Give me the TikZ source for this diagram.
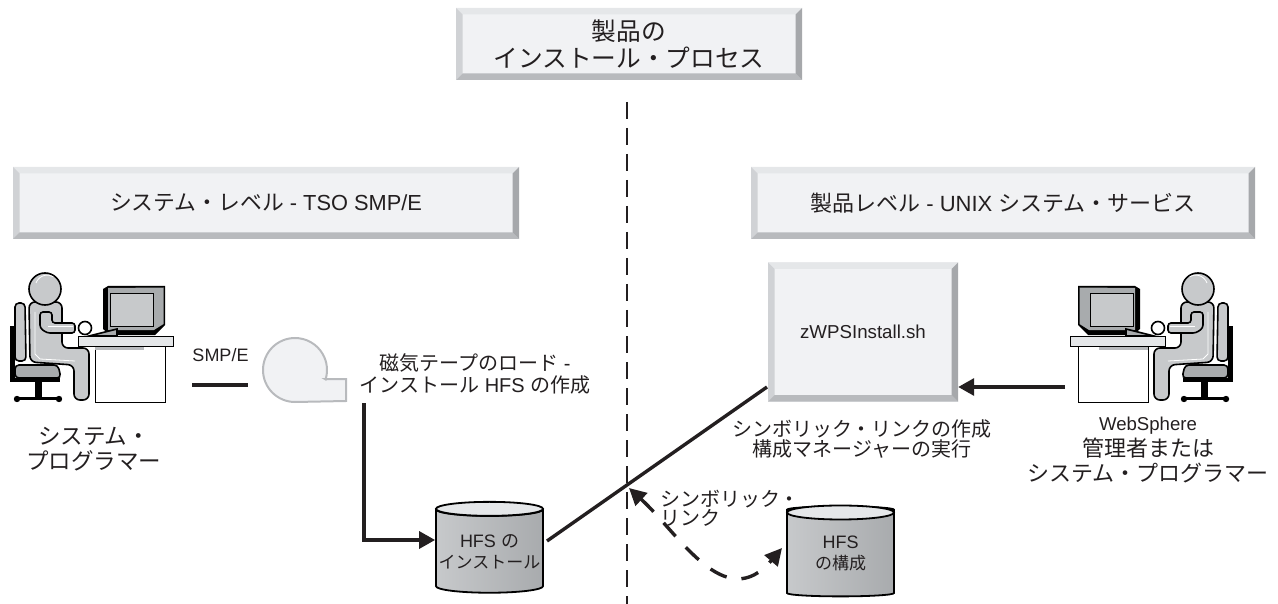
\documentclass[tikz,border=0pt]{standalone}
\usepackage{fontspec}
\setmainfont{Liberation Sans}
\newfontfamily\jafont{Noto Sans CJK JP}
\usetikzlibrary{arrows.meta,calc,shapes.geometric}

\newlength{\du}
\setlength{\du}{1pt}
\newcommand{\ja}[1]{{\jafont #1}}
\newcommand{\fs}[1]{\fontsize{#1}{#1}\selectfont}

\definecolor{inkcolor}{rgb}{0.137000, 0.122000, 0.125000}
\definecolor{facecolor}{rgb}{0.945000, 0.949000, 0.957000}
\definecolor{bevellight}{rgb}{0.898000, 0.906000, 0.914000}
\definecolor{bevelmid}{rgb}{0.816000, 0.824000, 0.835000}
\definecolor{beveldark}{rgb}{0.722000, 0.729000, 0.741000}
\definecolor{bevelright}{rgb}{0.650000, 0.660000, 0.670000}
\definecolor{bodycolor}{rgb}{0.780000, 0.788000, 0.796000}
\definecolor{chaircolor}{rgb}{0.660000, 0.670000, 0.680000}

\tikzset{
  person/.pic={
    % chair
    \fill[black] (10,66) rectangle (15,122);
    \fill[black] (10,118) rectangle (60,122);
    \fill[black] (35,122) rectangle (42,137);
    \draw[black,line width=3\du,line cap=round] (17,138)--(59,138);
    \fill[black] (17,139) circle (3.2);
    \fill[black] (59,139) circle (3.2);
    \draw[thinline,fill=bodycolor,rounded corners=4\du] (15,43)--(25,43)--(26,101)--(15,101)--cycle;
    \draw[thinline,fill=chaircolor,rounded corners=4\du] (15,118)--(15,105)--(58,105)--(61,118)--cycle;
    % man
    \draw[thinline,fill=bodycolor,rounded corners=6\du] (30,102)--(29,42)--(62,42)--(62,88)--(89,88)--(89,140)--(74,140)--(74,105)--cycle;
    \draw[white,line width=0.8\du] (35,52)--(35,94)--(40,99)--(75,101);
    \draw[thinline,fill=bodycolor,rounded corners=3\du] (40,52)--(52,52)--(52,63)--(75,63)--(75,73)--(47,73)--(40,68)--cycle;
    \draw[white,line width=0.8\du] (48,66)--(73,66);
    \draw[thinline,fill=bodycolor] (45,29) circle (16);
    \draw[white,line width=0.8\du] (36,23) arc (200:300:12);
    \draw[thinline,fill=white] (85,68) circle (6.5);
    % desk and screen
    \fill[black] (103,29)--(108,26)--(165,26)--(165,65)--(155,75)--(110,75)--(103,69)--cycle;
    \fill[chaircolor] (108,28)--(163.5,27.5)--(163.5,64)--(154,70)--(108,70)--cycle;
    \fill[bodycolor] (110,33)--(153,33)--(153,66)--(110,66)--cycle;
    \draw[black,line width=0.8\du] (110,33)--(153,33)--(153,66)--(110,66)--cycle;
    \draw[thinline,fill=chaircolor] (89,76)--(117,69)--(117,76)--cycle;
    \draw[black,line width=0.7\du,fill=white] (95,86) rectangle (165,142);
    \fill[beveldark] (95,86.5) rectangle (144,90);
    \draw[black,line width=0.7\du,fill=bevellight] (78,76) rectangle (173,86);
  },
  thinline/.style={draw=black,line width=1.6\du},
  % boxes
  bevelbox/.style={
    fill=facecolor,inner sep=0pt,align=center,text=inkcolor,
    path picture={
      \fill[bevellight] (path picture bounding box.north west)--(path picture bounding box.north east)--++(-6.5pt,-6.5pt)-|($(path picture bounding box.north west)+(6.5pt,-6.5pt)$)--cycle;
      \fill[bevelmid] (path picture bounding box.north west)--(path picture bounding box.south west)--++(6.5pt,6.5pt)|-($(path picture bounding box.north west)+(6.5pt,-6.5pt)$)--cycle;
      \fill[beveldark] (path picture bounding box.south west)--(path picture bounding box.south east)--++(-6.5pt,6.5pt)-|($(path picture bounding box.south west)+(6.5pt,6.5pt)$)--cycle;
      \fill[bevelright] (path picture bounding box.south east)--(path picture bounding box.north east)--++(-6.5pt,-6.5pt)|-($(path picture bounding box.south east)+(-6.5pt,6.5pt)$)--cycle;
    }},
  hfsdisk/.style={
    shape=cylinder,shape border rotate=90,aspect=0.13,draw=black,line width=1.8\du,
    minimum width=107\du,minimum height=90\du,inner sep=0pt,align=center,text=inkcolor,
    left color=bodycolor,right color=chaircolor},
  disktop/.style={draw=black,line width=1.8\du,fill=bevellight},
  textlabel/.style={inner sep=0pt,align=center,text=inkcolor},
  thickline/.style={draw=inkcolor,line width=3.4\du},
  triangletip/.style={-{Triangle[length=16pt,width=17pt]}}
}

\begin{document}
\begin{tikzpicture}[x=1\du,y=-1\du]
\useasboundingbox (0,0) rectangle (1278,604);
% boxes
\node[bevelbox,minimum width=346\du,minimum height=72\du] (title) at (629,44) {\raisebox{-2\du}{\shortstack{\fs{24.7}\ja{製品の}\\[2\du]\fs{24.7}\ja{インストール・プロセス}}}};
\node[bevelbox,minimum width=506\du,minimum height=72\du] (system) at (266,203) {\raisebox{-2\du}{\fs{21.8}\ja{システム・レベル} - TSO SMP/E}};
\node[bevelbox,minimum width=504\du,minimum height=72\du] (product) at (1003,203) {\raisebox{-2\du}{\fs{22}\ja{製品レベル} - UNIX \ja{システム・サービス}}};
\node[bevelbox,minimum width=190\du,minimum height=139\du] (script) at (863,332) {\raisebox{-9\du}{\fs{18.7}zWPSInstall.sh}};
% people
\pic at (0,260) {person};
\pic[xscale=-1] at (1243,260) {person};
% tape
\draw[draw=beveldark,line width=2\du,fill=facecolor] (325,379)--(346,379)--(346,401)--(295,402) arc (90:377:32)--cycle;
% disks
\node[hfsdisk] (install) at (489.5,551.5) {\fs{18}HFS \ja{の}\\[6\du]\fs{17}\ja{インストール}};
\draw[disktop] ($(install.north)+(0,7)$) ellipse (53.5 and 7);
\node[hfsdisk] (config) at (840.5,553.5) {\fs{18}HFS\\[5\du]\fs{17}\ja{の構成}};
\draw[disktop] ($(config.north)+(0,7)$) ellipse (53.5 and 7);
% labels
\node[textlabel] (smpe) at (220.5,355) {\fs{18}SMP/E};
\node[textlabel] (load) at (475,374) {\fs{20}\ja{磁気テープのロード} -\\[2\du]\fs{20}\ja{インストール} HFS \ja{の作成}};
\node[textlabel] (links) at (862,439) {\fs{20}\ja{シンボリック・リンクの作成}\\[0\du]\fs{20}\ja{構成マネージャーの実行}};
\node[textlabel,align=left] (symlink) at (730,508) {\fs{20}\ja{シンボリック・}\\[0\du]\fs{20}\ja{リンク}};
\node[textlabel] (programmer) at (94,449) {\fs{22.5}\ja{システム・}\\[4\du]\fs{22.5}\ja{プログラマー}};
\node[textlabel] (admin) at (1148,450) {\fs{18.6}WebSphere\\[3\du]\fs{22}\ja{管理者または}\\[4\du]\fs{22}\ja{システム・プログラマー}};
% connectors
\coordinate (divtop) at (627,102);
\coordinate (divbottom) at (627,604);
\coordinate (tapein) at (192,385);
\coordinate (tapeend) at (248,385);
\coordinate (loadout) at (364,403);
\coordinate (loadcorner) at (364,540);
\coordinate (scriptin) at (767,387);
\coordinate (adminout) at (1065,387);
\coordinate (installout) at (547,541);
\coordinate (linktip) at (629,488);
\coordinate (configtip) at (782,548);
\draw[draw=inkcolor,line width=2\du,dash pattern=on 17\du off 9\du] (divtop)--(divbottom);
\draw[thickline] (tapein)--(tapeend);
\draw[thickline,triangletip] (loadout)--(loadcorner)--(install.west |- loadcorner);
\draw[thickline] (installout)--(scriptin);
\draw[thickline,triangletip] (adminout)--(script.east |- adminout);
\draw[thickline,{Triangle[length=17pt,width=17pt]}-{Triangle[length=17pt,width=17pt]},dash pattern=on 18\du off 15\du] (linktip) .. controls (680,535) and (725,615) .. (configtip);
\end{tikzpicture}
\end{document}
